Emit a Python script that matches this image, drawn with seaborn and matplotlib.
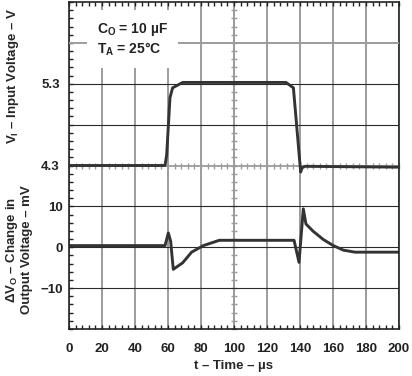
import matplotlib.pyplot as plt
import seaborn as sns
from matplotlib.ticker import MultipleLocator

# input voltage step (V) vs time (us)
vin_t = [0, 58.2, 59.2, 61.2, 62.8, 68.9, 131.5, 136.0, 140.4, 141.2, 143.0, 199.5]
vin_v = [4.30, 4.30, 4.43, 5.13, 5.25, 5.316, 5.316, 5.25, 4.22, 4.27, 4.29, 4.28]

# change in output voltage (mV) vs time (us)
dvo_t = [0, 58.2, 60.2, 61.6, 63.2, 68.9, 74.3, 81.4, 91.1, 136.4, 139.4,
         142.0, 143.6, 148.0, 154.1, 160.2, 166.2, 173.3, 200]
dvo_v = [0.4, 0.4, 3.5, 1.5, -5.4, -3.8, -1.2, 0.4, 1.7, 1.7, -3.7,
         9.4, 5.7, 3.9, 1.9, 0.4, -0.7, -1.2, -1.2]

x_ticks = list(range(0, 201, 20))
dvo_ticks = [-10, 0, 10]
vin_ticks = [4.3, 5.3]

sns.set_style('white')
plt.rcParams['font.family'] = ['Liberation Sans', 'DejaVu Sans']
plt.rcParams['font.weight'] = 'bold'
plt.rcParams['font.size'] = 9.5
plt.rcParams['mathtext.fontset'] = 'custom'
plt.rcParams['mathtext.rm'] = 'Liberation Sans:bold'
plt.rcParams['mathtext.it'] = 'Liberation Sans:bold'
plt.rcParams['mathtext.bf'] = 'Liberation Sans:bold'

grey = '#9c9c9c'
ink = '#333333'
rect = [69 / 412, 1 - 329 / 376, 330 / 412, 327 / 376]

fig = plt.figure(figsize=(4.12, 3.76), dpi=100)

# centre cross-hair with graduation marks (scope style)
ax3 = fig.add_axes(rect, zorder=0)
ax3.set_xlim(0, 200)
ax3.set_ylim(0, 8)
for s in ['top', 'right']:
    ax3.spines[s].set_visible(False)
for s in ['left', 'bottom']:
    ax3.spines[s].set_position(('axes', 0.5))
    ax3.spines[s].set_color(grey)
    ax3.spines[s].set_linewidth(1.3)
ax3.xaxis.set_major_locator(MultipleLocator(4))
ax3.yaxis.set_major_locator(MultipleLocator(0.2))
ax3.tick_params(direction='inout', length=5, width=1, color=grey,
                labelbottom=False, labelleft=False, bottom=True, left=True)
ax3.patch.set_visible(False)

# lower trace axes (mV)
ax = fig.add_axes(rect, zorder=2)
ax.patch.set_visible(False)
sns.lineplot(x=dvo_t, y=dvo_v, ax=ax, color=ink, linewidth=2.1)
ax.set_xlim(0, 200)
ax.set_ylim(-20, 60)
ax.set_xticks(x_ticks)
ax.set_yticks(dvo_ticks)
ax.xaxis.set_minor_locator(MultipleLocator(4))
ax.yaxis.set_minor_locator(MultipleLocator(2))
ax.xaxis.grid(True, color=grey, linewidth=1.4)
ax.yaxis.grid(True, color='#2a2a2a', linewidth=0.8)
ax.tick_params(which='both', direction='in', length=3, width=1, color='#222222',
               top=True, right=True, bottom=True, left=True)
ax.tick_params(axis='x', pad=10, labelcolor='#222222')
ax.tick_params(axis='y', pad=4.3, labelcolor='#222222')
for s in ax.spines.values():
    s.set_color('#222222')
    s.set_linewidth(1.2)
ax.set_xlabel('t – Time – µs', labelpad=4, fontweight='bold')
ax.set_ylabel('ΔV$_\\mathrm{O}$ – Change in\nOutput Voltage – mV', fontweight='bold')
ax.yaxis.set_label_coords(-0.108, 0.242)

# upper trace axes (V)
ax2 = ax.twinx()
ax2.set_zorder(3)
ax2.patch.set_visible(False)
sns.lineplot(x=vin_t, y=vin_v, ax=ax2, color=ink, linewidth=2.1)
ax2.set_ylim(2.3, 6.3)
ax2.set_yticks(vin_ticks)
ax2.yaxis.tick_left()
ax2.tick_params(axis='y', length=0, pad=6.5, labelcolor='#222222')
for s in ax2.spines.values():
    s.set_visible(False)
ax2.axhline(5.3, color='#2a2a2a', linewidth=0.8, zorder=0)
ax2.axhline(4.8, color='#2a2a2a', linewidth=0.8, zorder=0)
ax2.axhline(5.8, color=grey, linewidth=1.4, zorder=0)
ax2.yaxis.set_label_position('left')
ax2.set_ylabel('V$_\\mathrm{I}$ – Input Voltage – V', fontweight='bold')
ax2.yaxis.set_label_coords(-0.145, 0.774)

ax2.text(17, 6.07, 'C$_\\mathrm{O}$ = 10 µF\nT$_\\mathrm{A}$ = 25°C', va='top', ha='left',
         fontsize=10, linespacing=1.25, color='#222222',
         bbox=dict(facecolor='white', edgecolor='none', pad=7), zorder=5)

fig.savefig('out.png', dpi=100)
